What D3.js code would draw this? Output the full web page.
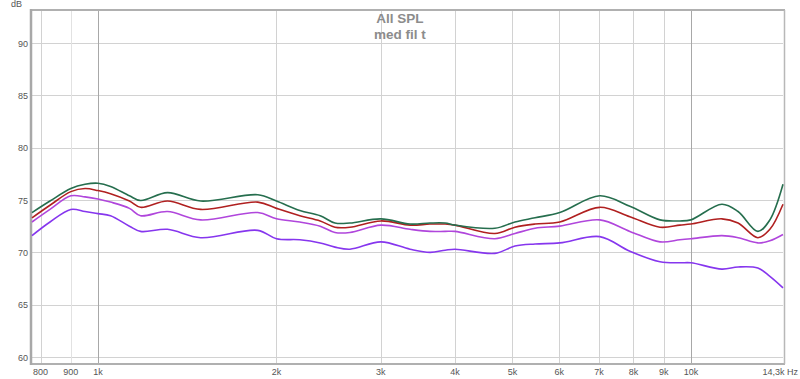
<!DOCTYPE html>
<html><head><meta charset="utf-8">
<script src="https://cdn.jsdelivr.net/npm/d3@7"></script>
<style>body{margin:0;background:#fff;}svg{display:block;font-family:"Liberation Sans",Arial,sans-serif;}</style>
</head><body>
<svg id="c" width="800" height="379"></svg>
<script>
const freqs = [774,830,900,951,1000,1050,1130,1180,1310,1490,1860,2000,2190,2370,2510,2660,3000,3360,3630,3850,4000,4670,5050,5460,6010,7020,7890,8870,9580,10000,11280,12010,12970,13590,14300];
const green   = [73.8,74.9,76.1,76.5,76.6,76.3,75.4,74.95,75.7,74.9,75.5,74.9,74.0,73.5,72.8,72.8,73.2,72.7,72.8,72.8,72.6,72.3,72.9,73.3,73.8,75.4,74.4,73.1,73.0,73.1,74.6,73.9,72.0,73.1,76.5];
const red     = [73.3,74.5,75.8,76.1,75.9,75.6,74.9,74.3,74.9,74.1,74.8,74.2,73.5,73.0,72.4,72.4,73.0,72.6,72.7,72.7,72.6,71.8,72.4,72.7,72.9,74.3,73.4,72.4,72.6,72.7,73.2,72.8,71.4,72.2,74.6];
const magenta = [72.9,74.1,75.4,75.3,75.1,74.8,74.2,73.5,73.9,73.1,73.8,73.2,72.9,72.5,71.9,71.9,72.6,72.2,72.0,72.0,72.0,71.3,71.8,72.3,72.5,73.1,72.0,71.0,71.2,71.3,71.6,71.4,70.9,71.1,71.7];
const violet  = [71.6,72.9,74.1,73.9,73.7,73.5,72.5,72.0,72.2,71.4,72.1,71.3,71.2,70.9,70.5,70.3,71.0,70.3,70.0,70.2,70.3,69.9,70.6,70.8,70.9,71.5,70.1,69.1,69.0,69.0,68.4,68.6,68.5,67.7,66.6];
const seriesNames = ["green","red","magenta","violet"];
const seriesColors = ["#266e4e","#b02020","#b046dc","#8636ee"];
const xTicks = [800,900,1000,2000,3000,4000,5000,6000,7000,8000,9000,10000];
const xTickLabels = ["800","900","1k","2k","3k","4k","5k","6k","7k","8k","9k","10k"];
const yTicks = [60,65,70,75,80,85,90];
const title = ["All SPL","med fil t"];

const svg = d3.select("#c");
const L=32, R=783, T=10, B=364;
const x = d3.scaleLog().domain([774,14300]).range([L,R]);
const y = d3.scaleLinear().domain([60,90]).range([357,43]);

svg.append("g").selectAll("line").data(yTicks).join("line")
  .attr("x1",L).attr("x2",R).attr("y1",d=>Math.round(y(d))+0.5).attr("y2",d=>Math.round(y(d))+0.5)
  .attr("stroke","#d2d2d2").attr("stroke-width",1);
svg.append("g").selectAll("line").data(xTicks).join("line")
  .attr("x1",d=>Math.round(x(d))+0.5).attr("x2",d=>Math.round(x(d))+0.5).attr("y1",T).attr("y2",B)
  .attr("stroke",d=>(d===1000||d===10000)?"#a8a8a8":(d===900?"#e2e2e2":"#d2d2d2")).attr("stroke-width",1);

svg.append("line").attr("x1",L).attr("x2",R+2).attr("y1",T).attr("y2",T).attr("stroke","#b0b0b0").attr("stroke-width",2);
svg.append("line").attr("x1",L).attr("x2",R+2).attr("y1",B).attr("y2",B).attr("stroke","#b0b0b0").attr("stroke-width",2);
svg.append("line").attr("x1",L-1).attr("x2",L-1).attr("y1",T-1).attr("y2",B+1).attr("stroke","#a8a8a8").attr("stroke-width",2.5);
svg.append("line").attr("x1",R+1.5).attr("x2",R+1.5).attr("y1",T).attr("y2",B).attr("stroke","#b8b8b8").attr("stroke-width",1.5);

svg.append("g").selectAll("text").data(yTicks).join("text")
  .attr("x",28).attr("y",d=>y(d)+3.5).attr("text-anchor","end")
  .attr("font-size",9).attr("fill","#555").text(d=>d);
svg.append("text").attr("x",11).attr("y",7).attr("font-size",9).attr("fill","#555").text("dB");
svg.append("g").selectAll("text").data(xTicks).join("text")
  .attr("x",(d)=>x(d)).attr("y",375).attr("text-anchor","middle")
  .attr("font-size",9).attr("fill","#555").text((d,i)=>xTickLabels[i]);
svg.append("text").attr("x",798).attr("y",375).attr("text-anchor","end")
  .attr("font-size",9).attr("fill","#555").text("14,3k Hz");

svg.append("g").selectAll("text").data(title).join("text")
  .attr("x",400).attr("y",(d,i)=>23+i*16).attr("text-anchor","middle")
  .attr("font-size",13.5).attr("font-weight","bold").attr("fill","#8c8c8c").text(d=>d);

const data = [green,red,magenta,violet];
const line = d3.line().x((d,i)=>x(freqs[i])).y(d=>y(d)).curve(d3.curveCatmullRom.alpha(0.5));
svg.append("g").selectAll("path").data(data.slice().reverse()).join("path")
  .attr("d",d=>line(d)).attr("fill","none")
  .attr("stroke",(d,i)=>seriesColors[3-i]).attr("stroke-width",1.6);
</script>
</body></html>
